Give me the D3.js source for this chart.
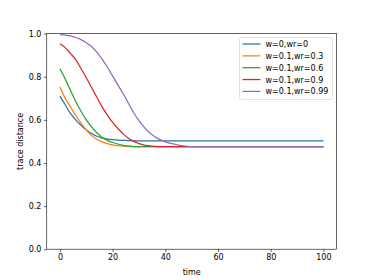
<!DOCTYPE html>
<html>
<head>
<meta charset="utf-8">
<script src="https://d3js.org/d3.v7.min.js"></script>
<style>
  body { margin: 0; background: #fff; }
  text { font-family: "DejaVu Sans", sans-serif; }
</style>
</head>
<body>
<div id="chart"></div>
<script>
// time points
var times = [0, 2, 4, 6, 8, 10, 12, 14, 16, 18, 20, 22, 24, 26, 28, 30, 32, 34, 36, 38, 40, 42, 44, 46, 48, 50, 60, 70, 80, 90, 100];

var seriesNames = ["w=0,wr=0", "w=0.1,wr=0.3", "w=0.1,wr=0.6", "w=0.1,wr=0.9", "w=0.1,wr=0.99"];
var seriesColors = ["#1f77b4", "#ff7f0e", "#2ca02c", "#d62728", "#9467bd"];

var w0_wr0 = [0.710, 0.670, 0.630, 0.600, 0.575, 0.553, 0.537, 0.524, 0.516, 0.511, 0.508, 0.506, 0.505, 0.504, 0.503, 0.503, 0.502, 0.502, 0.502, 0.502, 0.502, 0.502, 0.502, 0.502, 0.502, 0.502, 0.502, 0.502, 0.502, 0.502, 0.502];
var w01_wr03 = [0.752, 0.700, 0.660, 0.620, 0.585, 0.553, 0.528, 0.510, 0.498, 0.490, 0.484, 0.480, 0.478, 0.477, 0.476, 0.476, 0.476, 0.476, 0.476, 0.476, 0.476, 0.476, 0.476, 0.476, 0.476, 0.476, 0.476, 0.476, 0.476, 0.476, 0.476];
var w01_wr06 = [0.837, 0.790, 0.737, 0.685, 0.640, 0.600, 0.567, 0.540, 0.518, 0.505, 0.495, 0.488, 0.482, 0.478, 0.476, 0.476, 0.476, 0.476, 0.476, 0.476, 0.476, 0.476, 0.476, 0.476, 0.476, 0.476, 0.476, 0.476, 0.476, 0.476, 0.476];
var w01_wr09 = [0.953, 0.935, 0.908, 0.879, 0.838, 0.795, 0.750, 0.705, 0.660, 0.622, 0.588, 0.560, 0.535, 0.515, 0.500, 0.490, 0.483, 0.479, 0.477, 0.476, 0.476, 0.476, 0.476, 0.476, 0.476, 0.476, 0.476, 0.476, 0.476, 0.476, 0.476];
var w01_wr099 = [0.995, 0.993, 0.989, 0.982, 0.972, 0.958, 0.940, 0.914, 0.882, 0.845, 0.803, 0.762, 0.721, 0.677, 0.633, 0.596, 0.565, 0.540, 0.522, 0.508, 0.498, 0.491, 0.486, 0.481, 0.478, 0.476, 0.476, 0.476, 0.476, 0.476, 0.476];

var xTicks = [0, 20, 40, 60, 80, 100];
var yTicks = [0.0, 0.2, 0.4, 0.6, 0.8, 1.0];

var allSeries = [w0_wr0, w01_wr03, w01_wr06, w01_wr09, w01_wr099];

var svgWidth = 374;
var svgHeight = 280;
var margin = { top: 33.6, right: 37.4, bottom: 30.8, left: 46.75 };
var width = svgWidth - margin.left - margin.right;
var height = svgHeight - margin.top - margin.bottom;

var svg = d3.select("#chart")
  .append("svg")
  .attr("width", svgWidth)
  .attr("height", svgHeight);

var chartGroup = svg.append("g")
  .attr("transform", `translate(${margin.left}, ${margin.top})`);

// scales
var xScale = d3.scaleLinear().domain([-5, 105]).range([0, width]);
var yScale = d3.scaleLinear().domain([0, 1]).range([height, 0]);

// lines
var line = d3.line()
  .x((d, i) => xScale(times[i]))
  .y(d => yScale(d))
  .curve(d3.curveMonotoneX);

chartGroup.append("defs").append("clipPath").attr("id", "clip")
  .append("rect").attr("width", width).attr("height", height);

chartGroup.append("g").attr("clip-path", "url(#clip)")
  .selectAll("path")
  .data(allSeries)
  .enter()
  .append("path")
  .attr("d", d => line(d))
  .attr("fill", "none")
  .attr("stroke", (d, i) => seriesColors[i])
  .attr("stroke-width", 1.25);

// axes
var bottomAxis = d3.axisBottom(xScale).tickValues(xTicks).tickSizeOuter(0).tickSize(2.8).tickPadding(2.5);
var leftAxis = d3.axisLeft(yScale).tickValues(yTicks).tickFormat(d3.format(".1f")).tickSizeOuter(0).tickSize(2.8).tickPadding(2.5);

var xAxis = chartGroup.append("g")
  .attr("transform", `translate(0,${height})`)
  .call(bottomAxis);
var yAxis = chartGroup.append("g").call(leftAxis);

[xAxis, yAxis].forEach(function(ax) {
  ax.select(".domain").remove();
  ax.selectAll("line").attr("stroke", "#000").attr("stroke-width", 0.6);
  ax.selectAll("text").attr("font-size", 8).attr("fill", "#000").attr("font-family", "DejaVu Sans");
});

// frame
chartGroup.append("rect")
  .attr("width", width)
  .attr("height", height)
  .attr("fill", "none")
  .attr("stroke", "#000")
  .attr("stroke-width", 0.6);

// axis labels
chartGroup.append("text")
  .attr("x", width / 2)
  .attr("y", height + 26)
  .attr("text-anchor", "middle")
  .attr("font-size", 8)
  .text("time");

chartGroup.append("text")
  .attr("transform", "rotate(-90)")
  .attr("x", -height / 2)
  .attr("y", -23.5)
  .attr("text-anchor", "middle")
  .attr("font-size", 8)
  .text("trace distance");

// legend
var legend = svg.append("g").attr("transform", "translate(239.5, 37.5)");
legend.append("rect")
  .attr("width", 93)
  .attr("height", 62)
  .attr("rx", 2)
  .attr("fill", "#fff")
  .attr("fill-opacity", 0.8)
  .attr("stroke", "#d0d0d0")
  .attr("stroke-width", 0.6);

var rows = legend.selectAll(".row")
  .data(seriesNames)
  .enter()
  .append("g")
  .attr("transform", (d, i) => `translate(0, ${6.5 + i * 11.85})`);

rows.append("line")
  .attr("x1", 3)
  .attr("x2", 21)
  .attr("stroke", (d, i) => seriesColors[i])
  .attr("stroke-width", 1.25);

rows.append("text")
  .attr("x", 26)
  .attr("y", 3)
  .attr("font-size", 8)
  .text(d => d);
</script>
</body>
</html>
